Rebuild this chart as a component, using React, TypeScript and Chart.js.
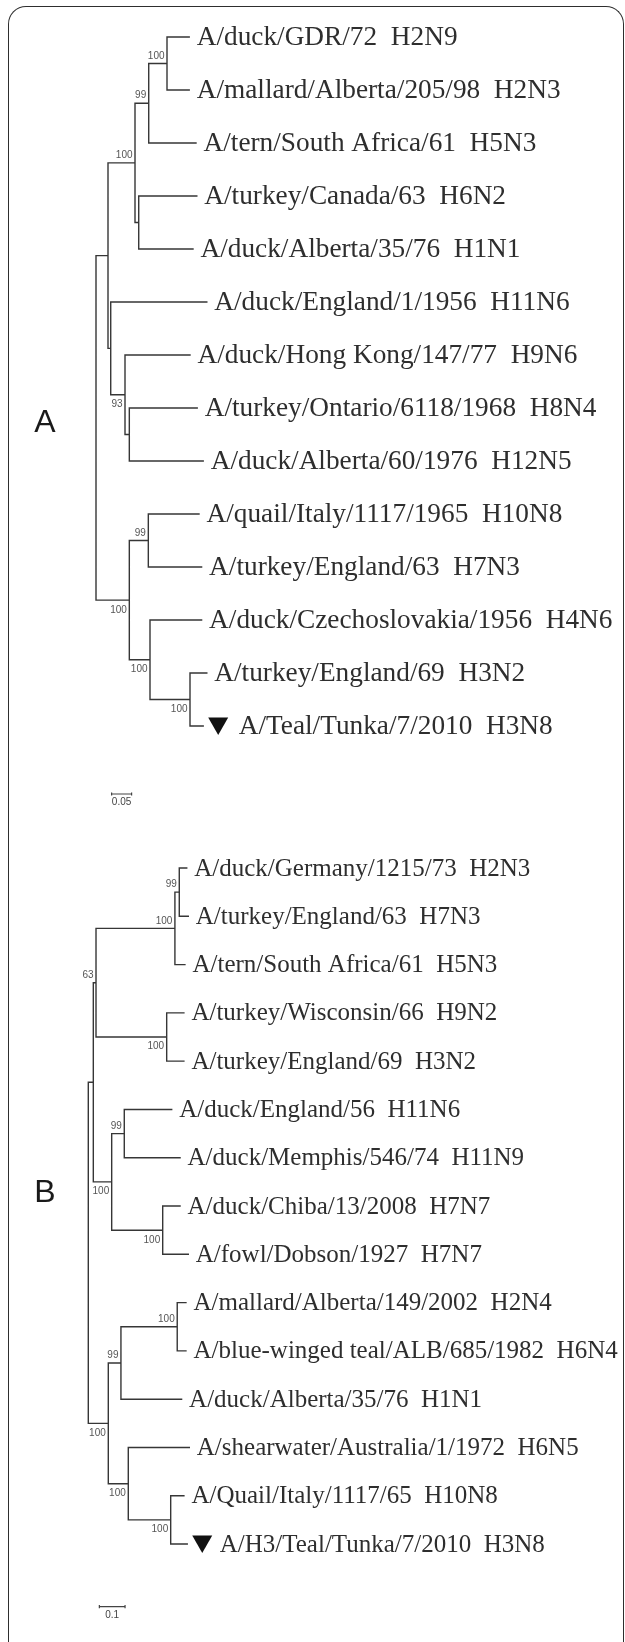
import React, { useEffect, useRef } from 'react';
import { Chart, registerables } from 'chart.js';

Chart.register(...registerables);

const CANVAS_W = 625;
const CANVAS_H = 1642;

// ---------------- Panel A (H3 tree, scale 0.05) ----------------
const leafLabelsA = [
  'A/duck/GDR/72  H2N9',
  'A/mallard/Alberta/205/98  H2N3',
  'A/tern/South Africa/61  H5N3',
  'A/turkey/Canada/63  H6N2',
  'A/duck/Alberta/35/76  H1N1',
  'A/duck/England/1/1956  H11N6',
  'A/duck/Hong Kong/147/77  H9N6',
  'A/turkey/Ontario/6118/1968  H8N4',
  'A/duck/Alberta/60/1976  H12N5',
  'A/quail/Italy/1117/1965  H10N8',
  'A/turkey/England/63  H7N3',
  'A/duck/Czechoslovakia/1956  H4N6',
  'A/turkey/England/69  H3N2',
  'A/Teal/Tunka/7/2010  H3N8',
];
// distance of each leaf tip from the root (substitutions/site)
const leafDepthA = [0.233, 0.233, 0.25, 0.252, 0.2425, 0.277, 0.235, 0.253, 0.268, 0.2575, 0.264, 0.264, 0.277, 0.268];
// internal nodes: children ("L#" leaf, "N#" node), depth from root, bootstrap support
const nodeChildrenA = [
  ['L0', 'L1'],
  ['N0', 'L2'],
  ['L3', 'L4'],
  ['N1', 'N2'],
  ['L7', 'L8'],
  ['L6', 'N4'],
  ['L5', 'N5'],
  ['N3', 'N6'],
  ['L9', 'L10'],
  ['L12', 'L13'],
  ['L11', 'N9'],
  ['N8', 'N10'],
  ['N7', 'N11'],
];
const nodeDepthA = [0.1775, 0.1318, 0.1068, 0.0975, 0.0833, 0.0725, 0.0368, 0.03, 0.1308, 0.235, 0.135, 0.0833, 0];
const nodeSupportA = [100, 99, null, 100, null, 93, null, null, 99, 100, 100, 100, null];
const markedA = [13];
const scaleBarA = { value: 0.05, label: '0.05' };

// ---------------- Panel B (N8 tree, scale 0.1) ----------------
const leafLabelsB = [
  'A/duck/Germany/1215/73  H2N3',
  'A/turkey/England/63  H7N3',
  'A/tern/South Africa/61  H5N3',
  'A/turkey/Wisconsin/66  H9N2',
  'A/turkey/England/69  H3N2',
  'A/duck/England/56  H11N6',
  'A/duck/Memphis/546/74  H11N9',
  'A/duck/Chiba/13/2008  H7N7',
  'A/fowl/Dobson/1927  H7N7',
  'A/mallard/Alberta/149/2002  H2N4',
  'A/blue-winged teal/ALB/685/1982  H6N4',
  'A/duck/Alberta/35/76  H1N1',
  'A/shearwater/Australia/1/1972  H6N5',
  'A/Quail/Italy/1117/65  H10N8',
  'A/H3/Teal/Tunka/7/2010  H3N8',
];
const leafDepthB = [0.383, 0.389, 0.376, 0.372, 0.372, 0.3245, 0.357, 0.357, 0.389, 0.38, 0.38, 0.363, 0.393, 0.372, 0.385];
const nodeChildrenB = [
  ['L0', 'L1'],
  ['N0', 'L2'],
  ['L3', 'L4'],
  ['N1', 'N2'],
  ['L5', 'L6'],
  ['L7', 'L8'],
  ['N4', 'N5'],
  ['N3', 'N6'],
  ['L9', 'L10'],
  ['N8', 'L11'],
  ['L13', 'L14'],
  ['L12', 'N10'],
  ['N9', 'N11'],
  ['N7', 'N12'],
];
const nodeDepthB = [0.354, 0.337, 0.305, 0.03, 0.14, 0.2895, 0.091, 0.0195, 0.346, 0.127, 0.3206, 0.1556, 0.0778, 0];
const nodeSupportB = [99, 100, 100, 63, 99, 100, 100, null, 100, 99, 100, 100, 100, null];
const markedB = [14];
const scaleBarB = { value: 0.1, label: '0.1' };

// ---------------- layout (pixels) ----------------
const PANELS = [
  {
    key: 'A', xId: 'xA', yId: 'yA',
    labels: leafLabelsA, leafDepth: leafDepthA, children: nodeChildrenA,
    nodeDepth: nodeDepthA, support: nodeSupportA, marked: markedA, bar: scaleBarA,
    rootPx: 96, pxPerUnit: 400, firstLeafPx: 37, leafStepPx: 53,
    barStart: 0.039, barRow: 14.283, letterX: 45, letterBase: 432,
    fontPx: 27.3, markGap: 10.5,
  },
  {
    key: 'B', xId: 'xB', yId: 'yB',
    labels: leafLabelsB, leafDepth: leafDepthB, children: nodeChildrenB,
    nodeDepth: nodeDepthB, support: nodeSupportB, marked: markedB, bar: scaleBarB,
    rootPx: 88.3, pxPerUnit: 257, firstLeafPx: 868, leafStepPx: 48.29,
    barStart: 0.043, barRow: 15.297, letterX: 45, letterBase: 1202,
    fontPx: 25, markGap: 7.5,
  },
];

const LINE_COLOR = '#363636';
const TEXT_COLOR = '#2e2e2e';
const SUPPORT_COLOR = '#555555';

type P = { x: number; y: number };

function resolve(panel: any, ref: string, nodeY: number[]): P {
  const idx = Number(ref.slice(1));
  if (ref[0] === 'L') return { x: panel.leafDepth[idx], y: idx };
  return { x: panel.nodeDepth[idx], y: nodeY[idx] };
}

function layoutTree(panel: any) {
  const nodeY: number[] = [];
  const firstChild: Record<number, boolean> = {};
  panel.children.forEach((ch: string[], i: number) => {
    const a = resolve(panel, ch[0], nodeY);
    const b = resolve(panel, ch[1], nodeY);
    nodeY[i] = (a.y + b.y) / 2;
    if (ch[0][0] === 'N') firstChild[Number(ch[0].slice(1))] = true;
    if (ch[1][0] === 'N') firstChild[Number(ch[1].slice(1))] = false;
  });
  const pts: P[] = [];
  panel.children.forEach((ch: string[], i: number) => {
    const a = resolve(panel, ch[0], nodeY);
    const b = resolve(panel, ch[1], nodeY);
    const x = panel.nodeDepth[i];
    pts.push({ x: a.x, y: a.y }, { x, y: a.y }, { x, y: b.y }, { x: b.x, y: b.y }, { x: NaN, y: NaN });
  });
  return { nodeY, firstChild, pts };
}

function scaleBarPoints(panel: any): P[] {
  const s = panel.barStart;
  const e = panel.barStart + panel.bar.value;
  const y = panel.barRow;
  const t = 1.6 / panel.leafStepPx;
  return [
    { x: s, y: y - t }, { x: s, y: y + t }, { x: NaN, y: NaN },
    { x: s, y }, { x: e, y }, { x: NaN, y: NaN },
    { x: e, y: y - t }, { x: e, y: y + t },
  ];
}

const treePlugin = {
  id: 'treeText',
  afterDatasetsDraw(chart: any) {
    const ctx: CanvasRenderingContext2D = chart.ctx;
    PANELS.forEach((panel) => {
      const xs = chart.scales[panel.xId];
      const ys = chart.scales[panel.yId];
      const { nodeY, firstChild } = layoutTree(panel);
      ctx.save();
      // leaf names
      ctx.font = panel.fontPx + 'px "Liberation Serif"';
      ctx.fillStyle = TEXT_COLOR;
      ctx.textAlign = 'left';
      ctx.textBaseline = 'alphabetic';
      panel.labels.forEach((lab: string, i: number) => {
        let px = xs.getPixelForValue(panel.leafDepth[i]) + 7.5;
        const py = ys.getPixelForValue(i);
        if (panel.marked.includes(i)) {
          const tx = px - 2.5;
          ctx.beginPath();
          ctx.moveTo(tx, py - 8.5);
          ctx.lineTo(tx + 20, py - 8.5);
          ctx.lineTo(tx + 10, py + 9);
          ctx.closePath();
          ctx.fillStyle = '#111';
          ctx.fill();
          ctx.fillStyle = TEXT_COLOR;
          px = tx + 20 + panel.markGap;
        }
        ctx.fillText(lab, px, py + 7.5);
      });
      // bootstrap supports
      ctx.font = '10px "Liberation Sans"';
      ctx.fillStyle = SUPPORT_COLOR;
      ctx.textAlign = 'right';
      panel.support.forEach((s: number | null, i: number) => {
        if (s == null) return;
        const px = xs.getPixelForValue(panel.nodeDepth[i]) - 2.5;
        const py = ys.getPixelForValue(nodeY[i]);
        const above = firstChild[i] !== false;
        ctx.fillText(String(s), px, above ? py - 4.8 : py + 12.4);
      });
      // scale bar label
      ctx.textAlign = 'center';
      ctx.fillStyle = '#444';
      const bx = xs.getPixelForValue(panel.barStart + panel.bar.value / 2);
      const by = ys.getPixelForValue(panel.barRow);
      ctx.fillText(panel.bar.label, bx, by + 11.5);
      // panel letter
      ctx.font = '32px "Liberation Sans"';
      ctx.fillStyle = '#1a1a1a';
      ctx.fillText(panel.key, panel.letterX, panel.letterBase);
      ctx.restore();
    });
  },
};

export default function App() {
  const canvasRef = useRef<HTMLCanvasElement | null>(null);

  useEffect(() => {
    if (!canvasRef.current) return;
    const datasets: any[] = [];
    const scales: any = {};
    PANELS.forEach((panel) => {
      const { pts } = layoutTree(panel);
      datasets.push({
        label: 'tree ' + panel.key,
        data: pts,
        xAxisID: panel.xId,
        yAxisID: panel.yId,
        borderColor: LINE_COLOR,
        borderWidth: 1.4,
        pointRadius: 0,
        fill: false,
        tension: 0,
        spanGaps: false,
        borderCapStyle: 'square',
        borderJoinStyle: 'miter',
      });
      datasets.push({
        label: 'scale ' + panel.key,
        data: scaleBarPoints(panel),
        xAxisID: panel.xId,
        yAxisID: panel.yId,
        borderColor: '#444',
        borderWidth: 1.2,
        pointRadius: 0,
        fill: false,
        tension: 0,
        spanGaps: false,
      });
      scales[panel.xId] = {
        type: 'linear', display: false,
        min: -panel.rootPx / panel.pxPerUnit,
        max: (CANVAS_W - panel.rootPx) / panel.pxPerUnit,
      };
      scales[panel.yId] = {
        type: 'linear', display: false, reverse: true,
        min: -panel.firstLeafPx / panel.leafStepPx,
        max: (CANVAS_H - panel.firstLeafPx) / panel.leafStepPx,
      };
    });
    const chart = new Chart(canvasRef.current, {
      type: 'line',
      data: { datasets },
      options: {
        responsive: false,
        animation: false,
        events: [],
        layout: { padding: 0 },
        plugins: { legend: { display: false }, tooltip: { enabled: false }, title: { display: false } },
        scales,
      },
      plugins: [treePlugin],
    } as any);
    return () => chart.destroy();
  }, []);

  return (
    <div style={{ position: 'absolute', left: 0, top: 0, width: CANVAS_W, height: CANVAS_H, background: '#fff', overflow: 'hidden' }}>
      <div
        style={{
          position: 'absolute', left: 8, top: 6, width: 616, height: CANVAS_H - 6,
          boxSizing: 'border-box', border: '1.5px solid #2e2e2e', borderBottom: 'none',
          borderRadius: '18px 18px 0 0',
        }}
      />
      <canvas
        ref={canvasRef}
        width={CANVAS_W}
        height={CANVAS_H}
        style={{ position: 'absolute', left: 0, top: 0, display: 'block' }}
      />
    </div>
  );
}
